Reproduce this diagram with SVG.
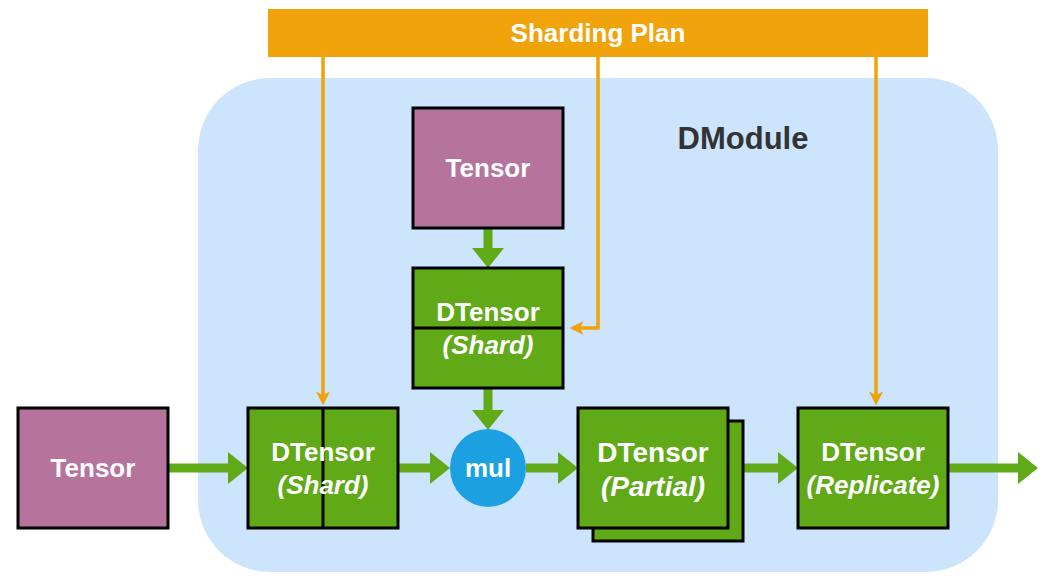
<svg xmlns="http://www.w3.org/2000/svg" width="1050" height="580" viewBox="0 0 1050 580">
  <defs>
    <style>
      .lbl { font-family: "Liberation Sans", Arial, sans-serif; font-weight: bold; fill: #ffffff; text-anchor: middle; dominant-baseline: central; }
      .tensor { fill: #B5739D; stroke: #000; stroke-width: 3; }
      .dt { fill: #60A917; stroke: #000; stroke-width: 3; }
      .div { stroke: #000; stroke-width: 3; fill: none; }
      .garrow { stroke: #60A917; stroke-width: 9; fill: none; }
      .oarrow { stroke: #F0A30A; stroke-width: 3.5; fill: none; }
    </style>
    <marker id="gHead" markerUnits="userSpaceOnUse" viewBox="0 0 20 32" markerWidth="20" markerHeight="32" refX="0" refY="16" orient="auto">
      <path d="M0,0 L20,16 L0,32 Z" fill="#60A917"/>
    </marker>
    <marker id="oHead" markerUnits="userSpaceOnUse" viewBox="0 0 14 14" markerWidth="14" markerHeight="14" refX="3.5" refY="7" orient="auto">
      <path d="M0,0 L14,7 L0,14 L3.5,7 Z" fill="#F0A30A"/>
    </marker>
  </defs>

  <g id="dmodule">
    <rect x="198" y="78" width="800" height="494" rx="72" ry="72" fill="#CCE5FC"/>
    <text x="743" y="138" font-family="Liberation Sans, Arial, sans-serif" font-weight="bold" font-size="31" fill="#333333" text-anchor="middle" dominant-baseline="central">DModule</text>
  </g>

  <g id="sharding-plan">
    <rect x="268" y="9" width="660" height="48" fill="#F0A30A"/>
    <text class="lbl" x="598" y="33" font-size="26">Sharding Plan</text>
  </g>

  <g id="connectors">
    <path class="garrow" d="M488,228 L488,248" marker-end="url(#gHead)"/>
    <path class="garrow" d="M488,388 L488,410" marker-end="url(#gHead)"/>
    <path class="garrow" d="M168,468 L228,468" marker-end="url(#gHead)"/>
    <path class="garrow" d="M398,468 L430,468" marker-end="url(#gHead)"/>
    <path class="garrow" d="M526,468 L558,468" marker-end="url(#gHead)"/>
    <path class="garrow" d="M743,468 L778,468" marker-end="url(#gHead)"/>
    <path class="garrow" d="M948,468 L1018,468" marker-end="url(#gHead)"/>
    <path class="oarrow" d="M323,57 L323,395" marker-end="url(#oHead)"/>
    <path class="oarrow" d="M598,57 L598,328 L580,328" marker-end="url(#oHead)"/>
    <path class="oarrow" d="M876,57 L876,395" marker-end="url(#oHead)"/>
  </g>

  <g id="tensor-top">
    <rect class="tensor" x="413" y="108" width="150" height="120"/>
    <text class="lbl" x="488" y="168" font-size="26">Tensor</text>
  </g>

  <g id="dtensor-shard-mid">
    <rect class="dt" x="413" y="268" width="150" height="120"/>
    <line class="div" x1="413" y1="328" x2="563" y2="328"/>
    <text class="lbl" x="488" y="312" font-size="26">DTensor</text>
    <text class="lbl" x="488" y="345" font-size="26" font-style="italic">(Shard)</text>
  </g>

  <g id="tensor-left">
    <rect class="tensor" x="18" y="408" width="150" height="120"/>
    <text class="lbl" x="93" y="468" font-size="26">Tensor</text>
  </g>

  <g id="dtensor-shard-left">
    <rect class="dt" x="248" y="408" width="150" height="120"/>
    <line class="div" x1="323" y1="408" x2="323" y2="528"/>
    <text class="lbl" x="323" y="452" font-size="26">DTensor</text>
    <text class="lbl" x="323" y="485" font-size="26" font-style="italic">(Shard)</text>
  </g>

  <g id="mul">
    <ellipse cx="488" cy="468" rx="38" ry="39" fill="#1BA1E2"/>
    <text class="lbl" x="488" y="468" font-size="26">mul</text>
  </g>

  <g id="dtensor-partial">
    <rect class="dt" x="593" y="421" width="150" height="120"/>
    <rect class="dt" x="578" y="408" width="150" height="120"/>
    <text class="lbl" x="653" y="452" font-size="28">DTensor</text>
    <text class="lbl" x="653" y="486" font-size="28" font-style="italic">(Partial)</text>
  </g>

  <g id="dtensor-replicate">
    <rect class="dt" x="798" y="408" width="150" height="120"/>
    <text class="lbl" x="873" y="452" font-size="26">DTensor</text>
    <text class="lbl" x="873" y="485" font-size="26" font-style="italic">(Replicate)</text>
  </g>
</svg>
